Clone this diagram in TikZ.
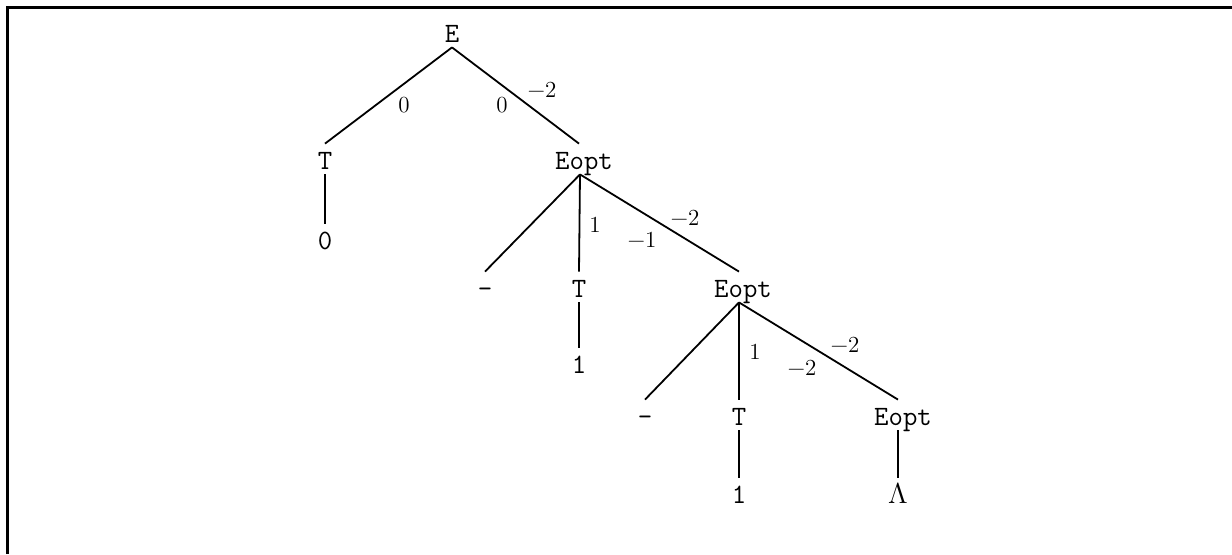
\documentclass[tikz,border=0pt]{standalone}
\usepackage{fontspec}
\begin{document}
\begin{tikzpicture}[x=0.5pt,y=-0.5pt,
  tn/.style={anchor=base,inner sep=2.5pt,text height=10pt,text depth=0pt,font=\fontsize{14}{15}\selectfont\ttfamily\addfontfeatures{FakeBold=1.2}},
  lb/.style={inner sep=0pt,font=\fontsize{11.5}{13}\selectfont\addfontfeatures{FakeBold=0.8}},
  br/.style={line width=0.9pt}]
\useasboundingbox (0,0) rectangle (1232,554);
\draw[line width=1.5pt] (7,554) -- (7,7) -- (1232,7);
% nodes
\node[tn] (E) at (452,42) {E};
\node[tn] (T1) at (325,169) {T};
\node[tn] (Z1) at (325,249) {0};
\node[tn] (Eo1) at (584,169) {Eopt};
\node[tn] (M1) at (485,297) {-};
\node[tn] (T2) at (579,297) {T};
\node[tn] (O2) at (579,373) {1};
\node[tn] (Eo2) at (743,297) {Eopt};
\node[tn] (M2) at (645,425) {-};
\node[tn] (T3) at (739,425) {T};
\node[tn] (O3) at (739,503) {1};
\node[tn] (Eo3) at (903,425) {Eopt};
\node[tn] (L3) at (898,503) {$\Lambda$};
% edges
\draw[br] (E.south) -- (T1.north);
\draw[br] (E.south) -- ([xshift=-2.5pt]Eo1.north);
\draw[br] (T1.south) -- (Z1.north);
\draw[br] ([xshift=-2pt]Eo1.south) -- (M1.north);
\draw[br] ([xshift=-2pt]Eo1.south) -- (T2.north);
\draw[br] ([xshift=-2pt]Eo1.south) -- ([xshift=-2pt]Eo2.north);
\draw[br] (T2.south) -- (O2.north);
\draw[br] ([xshift=-2pt]Eo2.south) -- (M2.north);
\draw[br] ([xshift=-2pt]Eo2.south) -- (T3.north);
\draw[br] ([xshift=-2pt]Eo2.south) -- ([xshift=-2.5pt]Eo3.north);
\draw[br] (T3.south) -- (O3.north);
\draw[br] ([xshift=-2.5pt]Eo3.south) -- (L3.north);
% labels
\node[lb] (a1) at (404,105) {0};
\node[lb] (a2) at (502,105) {0};
\node[lb] (a3) at (542,90) {−2};
\node[lb] (b1) at (595,225) {1};
\node[lb] (b2) at (642,240) {−1};
\node[lb] (b3) at (685,218) {−2};
\node[lb] (c1) at (755,352) {1};
\node[lb] (c2) at (802,368) {−2};
\node[lb] (c3) at (845,345) {−2};
\end{tikzpicture}
\end{document}
